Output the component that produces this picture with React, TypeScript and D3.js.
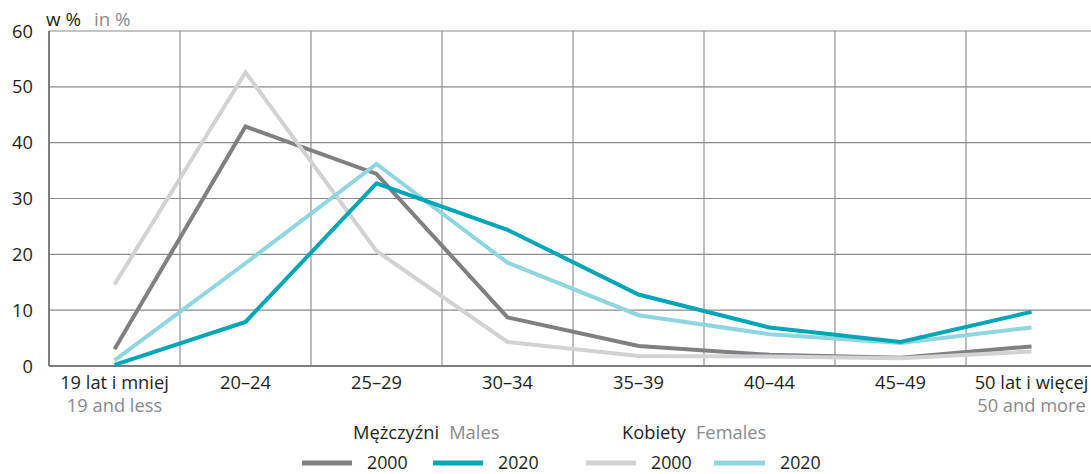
import React from "react";
import * as d3 from "d3";

const categoriesPl = ["19 lat i mniej", "20–24", "25–29", "30–34", "35–39", "40–44", "45–49", "50 lat i więcej"];
const categoriesEn = ["19 and less", "", "", "", "", "", "", "50 and more"];
const men2000 = [3.0, 42.9, 34.4, 8.7, 3.6, 2.0, 1.5, 3.5];
const men2020 = [0.2, 7.9, 32.7, 24.4, 12.8, 6.9, 4.3, 9.7];
const women2000 = [14.6, 52.6, 20.6, 4.3, 1.8, 1.7, 1.4, 2.6];
const women2020 = [1.0, 18.4, 36.2, 18.5, 9.1, 5.7, 4.1, 6.9];
const yTicks = [0, 10, 20, 30, 40, 50, 60];

const W = 1091;
const H = 474;
const FONT = "'Open Sans', 'Noto Sans', sans-serif";
const FS = 18.3;

const series = [
  { name: "m2000", values: men2000, color: "#808083" },
  { name: "w2000", values: women2000, color: "#d2d2d4" },
  { name: "w2020", values: women2020, color: "#8fd6de" },
  { name: "m2020", values: men2020, color: "#00a6b6" },
];

export default function App() {
  const left = 49;
  const band = 131;
  const x = d3
    .scaleBand<string>()
    .domain(categoriesPl)
    .range([left, left + band * categoriesPl.length])
    .paddingInner(0)
    .paddingOuter(0);
  const y = d3.scaleLinear().domain([0, 60]).range([366, 31]);
  const cx = (c: string) => (x(c) as number) + x.bandwidth() / 2;

  const line = d3
    .line<number>()
    .x((_, i) => cx(categoriesPl[i]))
    .y((d) => y(d));

  const legendItems = [
    { x1: 302, x2: 352, tx: 367, color: "#808083", label: "2000" },
    { x1: 433, x2: 483, tx: 498, color: "#00a6b6", label: "2020" },
    { x1: 586, x2: 636, tx: 651, color: "#d2d2d4", label: "2000" },
    { x1: 714, x2: 765, tx: 780, color: "#8fd6de", label: "2020" },
  ];

  return (
    <svg
      width={W}
      height={H}
      style={{ position: "absolute", left: 0, top: 0, display: "block", background: "#fff" }}
      fontFamily={FONT}
    >
      {/* vertical gridlines */}
      {categoriesPl.slice(1).map((c) => (
        <line key={"v" + c} x1={x(c)} x2={x(c)} y1={y(60)} y2={y(0)} stroke="#a8a8aa" strokeWidth={1.5} />
      ))}
      {/* horizontal gridlines */}
      {yTicks.slice(1).map((t) => (
        <line key={"h" + t} x1={left} x2={W} y1={y(t)} y2={y(t)} stroke="#8a8a8c" strokeWidth={1.2} />
      ))}
      {/* axes */}
      <line x1={left} x2={left} y1={y(60)} y2={y(0)} stroke="#7d7d80" strokeWidth={2} />
      <line x1={left} x2={W} y1={y(0)} y2={y(0)} stroke="#7d7d80" strokeWidth={2.2} />

      {/* y tick labels */}
      {yTicks.map((t) => (
        <text key={"yt" + t} x={33} y={y(t)} dy="0.36em" textAnchor="end" fontSize={FS} fill="#231f20">
          {t}
        </text>
      ))}
      <text x={46} y={26} fontSize={FS + 0.5} fill="#231f20">
        w %
        <tspan dx={13} fill="#8a8a8c">in %</tspan>
      </text>

      {/* series */}
      {series.map((s) => (
        <path key={s.name} d={line(s.values) || ""} fill="none" stroke={s.color} strokeWidth={4} strokeLinejoin="miter" />
      ))}

      {/* x labels */}
      {categoriesPl.map((c, i) => (
        <g key={"xl" + c}>
          <text x={cx(c)} y={389} textAnchor="middle" fontSize={FS} fill="#231f20">
            {c}
          </text>
          {categoriesEn[i] && (
            <text x={cx(c)} y={412} textAnchor="middle" fontSize={FS} fill="#8a8a8c">
              {categoriesEn[i]}
            </text>
          )}
        </g>
      ))}

      {/* legend */}
      <text x={353} y={439} fontSize={FS} fill="#231f20">
        Mężczyźni
        <tspan dx={10} fill="#8a8a8c">Males</tspan>
      </text>
      <text x={622} y={439} fontSize={FS} fill="#231f20">
        Kobiety
        <tspan dx={10} fill="#8a8a8c">Females</tspan>
      </text>
      {legendItems.map((l, i) => (
        <g key={"lg" + i}>
          <line x1={l.x1} x2={l.x2} y1={463} y2={463} stroke={l.color} strokeWidth={5} />
          <text x={l.tx} y={469} fontSize={17.8} fill="#231f20">
            {l.label}
          </text>
        </g>
      ))}
    </svg>
  );
}
